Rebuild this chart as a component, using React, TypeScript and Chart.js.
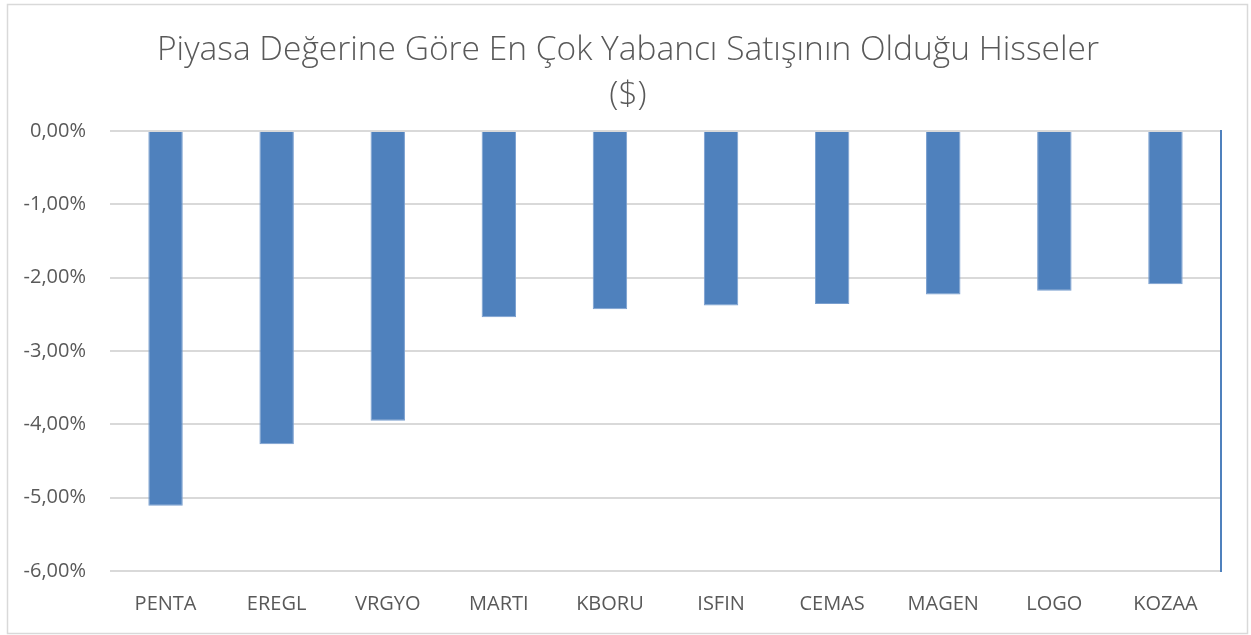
import React, { useEffect, useRef } from "react";
import { Chart, registerables } from "chart.js";

Chart.register(...registerables);

const categories = ["PENTA", "EREGL", "VRGYO", "MARTI", "KBORU", "ISFIN", "CEMAS", "MAGEN", "LOGO", "KOZAA"];
const values = [-5.11, -4.27, -3.95, -2.54, -2.43, -2.38, -2.36, -2.23, -2.18, -2.09];
const titleLines = ["Piyasa Değerine Göre En Çok Yabancı Satışının Olduğu Hisseler", "($)"];
const yTicks = [0, -1, -2, -3, -4, -5, -6];

const fmt = (v: number) => v.toFixed(2).replace(".", ",") + "%";

export default function App() {
  const ref = useRef<HTMLCanvasElement>(null);
  useEffect(() => {
    document.body.style.margin = "0";
    const framePlugin = {
      id: "frame",
      beforeDraw(chart: any) {
        const ctx = chart.ctx;
        ctx.save();
        ctx.fillStyle = "#ffffff";
        ctx.fillRect(0, 0, chart.width, chart.height);
        ctx.strokeStyle = "#d9d9d9";
        ctx.lineWidth = 1.5;
        ctx.strokeRect(7.5, 4.5, 1240, 629);
        ctx.fillStyle = "#595959";
        ctx.font = "300 33.5px 'Open Sans'";
        ctx.textAlign = "center";
        ctx.textBaseline = "middle";
        ctx.fillText(titleLines[0], 628, 50);
        ctx.fillText(titleLines[1], 628, 95);
        ctx.restore();
      },
    };
    const chart = new Chart(ref.current!, {
      type: "bar",
      data: {
        labels: categories,
        datasets: [
          {
            data: values,
            backgroundColor: "#4F81BD",
            borderColor: "#7A9FCF",
            borderWidth: 1,
            barPercentage: 0.31,
            categoryPercentage: 1,
          },
        ],
      },
      options: {
        animation: false,
        responsive: false,
        layout: { padding: { left: 10, right: 30, top: 131, bottom: 0 } },
        plugins: { legend: { display: false }, title: { display: false }, tooltip: { enabled: false } },
        scales: {
          x: {
            grid: { display: false, drawTicks: false },
            border: { display: false },
            ticks: { color: "#595959", font: { family: "'Open Sans'", size: 20 }, padding: 21 },
            afterFit(s: any) {
              s.height = 64;
            },
          },
          y: {
            min: -6,
            max: 0,
            afterBuildTicks(s: any) {
              s.ticks = yTicks.map((v) => ({ value: v }));
            },
            grid: { color: "#d9d9d9", lineWidth: 2, drawTicks: false },
            border: { display: false },
            ticks: {
              color: "#595959",
              font: { family: "'Open Sans'", size: 20 },
              padding: 24,
              callback: (v: any) => fmt(Number(v)),
            },
            afterFit(s: any) {
              s.width = 100;
            },
          },
          y2: {
            position: "right",
            min: -6,
            max: 0,
            grid: { display: false, drawTicks: false },
            border: { display: true, color: "#4F81BD", width: 2 },
            ticks: { display: false },
            afterFit(s: any) {
              s.width = 0;
            },
          },
        },
      },
      plugins: [framePlugin],
    });
    return () => chart.destroy();
  }, []);
  return <canvas ref={ref} width={1251} height={635} style={{ display: "block" }} />;
}
